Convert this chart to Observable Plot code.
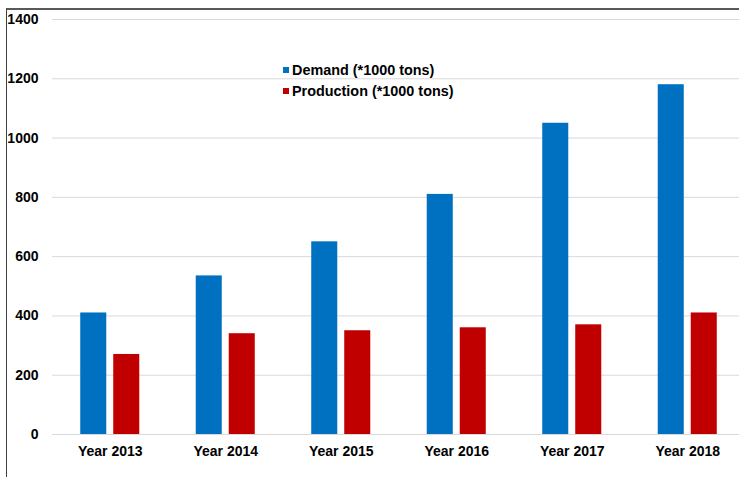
<!DOCTYPE html>
<html>
<head>
<meta charset="utf-8">
<script src="https://cdn.jsdelivr.net/npm/d3@7"></script>
<script src="https://cdn.jsdelivr.net/npm/@observablehq/plot@0.6"></script>
<style>
  html, body { margin: 0; padding: 0; background: #fff; overflow: hidden; }
  body { width: 739px; height: 477px; position: relative; font-family: "Liberation Sans", Arial, sans-serif; }
  #frame { position: absolute; left: 6px; top: 8px; width: 733px; height: 469px;
           border-top: 2px solid #595959; border-left: 1px solid #404040; }
  #chart { position: absolute; left: 0; top: 0; }
  #legend { position: absolute; left: 276px; top: 49px; font-weight: bold; font-size: 14.4px; color: #000; }
  .li { display: flex; align-items: center; height: 21px; }
  .sw { width: 6px; height: 6px; margin-right: 3px; }
</style>
</head>
<body>
<div id="frame">
  <div id="chart"></div>
  <div id="legend"></div>
</div>
<script>
const years = ["Year 2013", "Year 2014", "Year 2015", "Year 2016", "Year 2017", "Year 2018"];
const demand = [410, 535, 650, 810, 1050, 1180];
const production = [270, 340, 350, 360, 370, 410];
const seriesNames = ["Demand (*1000 tons)", "Production (*1000 tons)"];
const seriesColors = ["#0070C0", "#C00000"];
const yTicks = [0, 200, 400, 600, 800, 1000, 1200, 1400];

const demandData = years.map((y, i) => ({year: y, value: demand[i]}));
const productionData = years.map((y, i) => ({year: y, value: production[i]}));

const chart = Plot.plot({
  width: 732,
  height: 467,
  marginTop: 9,
  marginBottom: 43,
  marginLeft: 45,
  marginRight: -6,
  style: {fontFamily: "'Liberation Sans', Arial, sans-serif", fontSize: "14px", fontWeight: "bold", color: "#000", background: "transparent", overflow: "visible"},
  x: {domain: years, paddingInner: 0.489, paddingOuter: 0.2445, round: false, label: null, tickSize: 0, tickPadding: 12},
  y: {domain: [0, 1400], ticks: yTicks, tickFormat: d => String(d), label: null, tickSize: 0, tickPadding: 14},
  marks: [
    Plot.ruleY(yTicks, {stroke: "#d9d9d9", strokeWidth: 1}),
    Plot.barY(demandData, {x: "year", y: "value", fill: seriesColors[0], insetRight: 33, insetLeft: 0}),
    Plot.barY(productionData, {x: "year", y: "value", fill: seriesColors[1], insetLeft: 33, insetRight: 0})
  ]
});
document.getElementById("chart").appendChild(chart);

const legend = document.getElementById("legend");
seriesNames.forEach((name, i) => {
  const row = document.createElement("div");
  row.className = "li";
  const sw = document.createElement("span");
  sw.className = "sw";
  sw.style.background = seriesColors[i];
  const t = document.createElement("span");
  t.textContent = name;
  row.appendChild(sw);
  row.appendChild(t);
  legend.appendChild(row);
});
</script>
</body>
</html>
